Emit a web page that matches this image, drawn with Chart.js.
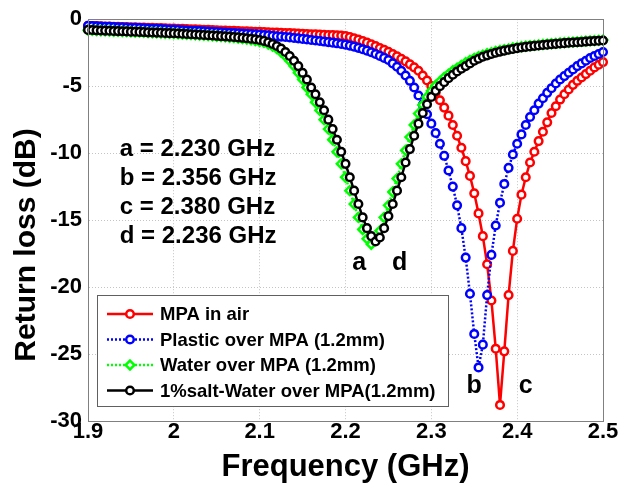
<!DOCTYPE html>
<html><head><meta charset="utf-8">
<script src="https://cdn.jsdelivr.net/npm/chart.js@4/dist/chart.umd.min.js"></script>
<style>html,body{margin:0;padding:0;background:#fff;overflow:hidden}</style>
</head><body>
<canvas id="c" width="619" height="489"></canvas>
<script>
// ---- data ----
const freqGHz = [
1.900,1.905,1.910,1.915,1.920,1.925,1.930,1.935,1.940,1.945,
1.950,1.955,1.960,1.965,1.970,1.975,1.980,1.985,1.990,1.995,
2.000,2.005,2.010,2.015,2.020,2.025,2.030,2.035,2.040,2.045,
2.050,2.055,2.060,2.065,2.070,2.075,2.080,2.085,2.090,2.095,
2.100,2.105,2.110,2.115,2.120,2.125,2.130,2.135,2.140,2.145,
2.150,2.155,2.160,2.165,2.170,2.175,2.180,2.185,2.190,2.195,
2.200,2.205,2.210,2.215,2.220,2.225,2.230,2.235,2.240,2.245,
2.250,2.255,2.260,2.265,2.270,2.275,2.280,2.285,2.290,2.295,
2.300,2.305,2.310,2.315,2.320,2.325,2.330,2.335,2.340,2.345,
2.350,2.355,2.360,2.365,2.370,2.375,2.380,2.385,2.390,2.395,
2.400,2.405,2.410,2.415,2.420,2.425,2.430,2.435,2.440,2.445,
2.450,2.455,2.460,2.465,2.470,2.475,2.480,2.485,2.490,2.495,
2.500];

const airDB = [
-0.50,-0.51,-0.52,-0.53,-0.54,-0.55,-0.56,-0.57,-0.58,-0.59,
-0.60,-0.61,-0.62,-0.63,-0.64,-0.65,-0.66,-0.67,-0.68,-0.69,
-0.70,-0.71,-0.72,-0.74,-0.75,-0.76,-0.77,-0.79,-0.80,-0.81,
-0.82,-0.84,-0.85,-0.86,-0.87,-0.89,-0.90,-0.91,-0.92,-0.94,
-0.95,-0.96,-0.98,-0.99,-1.00,-1.02,-1.03,-1.04,-1.06,-1.07,
-1.09,-1.10,-1.12,-1.13,-1.15,-1.16,-1.18,-1.19,-1.21,-1.23,
-1.25,-1.33,-1.42,-1.52,-1.63,-1.75,-1.88,-2.01,-2.15,-2.29,
-2.44,-2.60,-2.77,-2.95,-3.15,-3.37,-3.60,-3.85,-4.20,-4.58,
-5.00,-5.50,-6.05,-6.60,-7.20,-7.90,-8.70,-9.60,-10.6,-11.7,
-13.0,-14.5,-16.2,-18.3,-21.0,-24.6,-28.8,-24.8,-20.6,-17.3,
-14.9,-13.1,-11.8,-10.7,-9.90,-9.10,-8.40,-7.70,-7.00,-6.50,
-6.00,-5.60,-5.25,-4.90,-4.60,-4.35,-4.10,-3.85,-3.60,-3.40,
-3.20];

const plasticDB = [
-0.50,-0.51,-0.53,-0.54,-0.56,-0.57,-0.59,-0.60,-0.61,-0.63,
-0.64,-0.65,-0.67,-0.68,-0.70,-0.71,-0.72,-0.74,-0.75,-0.77,
-0.78,-0.80,-0.82,-0.84,-0.86,-0.87,-0.89,-0.91,-0.93,-0.95,
-0.96,-0.98,-1.00,-1.02,-1.03,-1.05,-1.07,-1.09,-1.11,-1.13,
-1.15,-1.18,-1.21,-1.24,-1.27,-1.30,-1.33,-1.36,-1.40,-1.43,
-1.47,-1.51,-1.55,-1.59,-1.63,-1.67,-1.71,-1.75,-1.80,-1.85,
-1.90,-1.97,-2.05,-2.14,-2.24,-2.35,-2.47,-2.60,-2.74,-2.89,
-3.05,-3.30,-3.55,-3.85,-4.20,-4.60,-5.10,-5.70,-6.40,-7.10,
-7.80,-8.50,-9.30,-10.2,-11.3,-12.5,-13.9,-15.6,-17.8,-20.5,
-23.5,-26.0,-24.3,-20.6,-17.6,-15.4,-13.7,-12.3,-11.1,-10.1,
-9.30,-8.60,-7.90,-7.30,-6.80,-6.30,-5.90,-5.50,-5.15,-4.80,
-4.50,-4.25,-4.00,-3.75,-3.50,-3.30,-3.10,-2.90,-2.75,-2.60,
-2.45];

const waterDB = [
-0.82,-0.83,-0.85,-0.86,-0.87,-0.88,-0.90,-0.91,-0.92,-0.93,
-0.95,-0.96,-0.97,-0.98,-1.00,-1.01,-1.02,-1.03,-1.05,-1.06,
-1.07,-1.09,-1.11,-1.13,-1.15,-1.17,-1.19,-1.21,-1.23,-1.25,
-1.27,-1.30,-1.32,-1.35,-1.38,-1.41,-1.45,-1.49,-1.54,-1.60,
-1.67,-1.72,-1.85,-2.00,-2.20,-2.45,-2.75,-3.10,-3.50,-4.00,
-4.50,-5.10,-5.60,-6.20,-6.80,-7.50,-8.20,-9.00,-9.90,-10.8,
-11.8,-12.8,-13.8,-14.8,-15.7,-16.4,-16.8,-16.5,-15.8,-14.8,
-13.9,-12.9,-11.9,-10.8,-9.80,-8.80,-7.90,-7.05,-6.40,-5.80,
-5.35,-4.95,-4.65,-4.35,-4.10,-3.85,-3.65,-3.45,-3.25,-3.08,
-2.93,-2.79,-2.68,-2.58,-2.49,-2.41,-2.34,-2.27,-2.21,-2.15,
-2.10,-2.06,-2.02,-1.98,-1.95,-1.92,-1.89,-1.86,-1.83,-1.80,
-1.78,-1.75,-1.73,-1.71,-1.69,-1.66,-1.64,-1.62,-1.60,-1.58,
-1.56];

const saltWaterDB = [
-0.80,-0.81,-0.83,-0.84,-0.85,-0.86,-0.88,-0.89,-0.90,-0.91,
-0.93,-0.94,-0.95,-0.96,-0.98,-0.99,-1.00,-1.01,-1.03,-1.04,
-1.05,-1.07,-1.09,-1.10,-1.12,-1.14,-1.16,-1.18,-1.20,-1.22,
-1.24,-1.26,-1.28,-1.30,-1.33,-1.36,-1.39,-1.42,-1.46,-1.50,
-1.55,-1.62,-1.72,-1.85,-2.00,-2.20,-2.45,-2.75,-3.10,-3.50,
-4.00,-4.50,-5.10,-5.60,-6.20,-6.80,-7.50,-8.20,-9.00,-9.90,
-10.8,-11.8,-12.8,-13.8,-14.8,-15.6,-16.2,-16.6,-16.3,-15.6,
-14.7,-13.8,-12.8,-11.8,-10.7,-9.70,-8.70,-7.80,-7.00,-6.35,
-5.80,-5.35,-5.00,-4.70,-4.40,-4.15,-3.90,-3.70,-3.50,-3.30,
-3.10,-2.95,-2.80,-2.70,-2.60,-2.50,-2.42,-2.35,-2.28,-2.22,
-2.16,-2.11,-2.07,-2.03,-1.99,-1.96,-1.93,-1.90,-1.87,-1.84,
-1.81,-1.79,-1.76,-1.74,-1.72,-1.70,-1.67,-1.65,-1.63,-1.61,
-1.59];

const seriesNames = ['MPA in air','Plastic over MPA (1.2mm)','Water over MPA (1.2mm)','1%salt-Water over MPA(1.2mm)'];
const xTicks = [1.9, 2.0, 2.1, 2.2, 2.3, 2.4, 2.5];
const xTickLabels = ['1.9','2','2.1','2.2','2.3','2.4','2.5'];
const yTicks = [-30, -25, -20, -15, -10, -5, 0];
const yTickLabels = ['-30','-25','-20','-15','-10','-5','0'];
const resonanceNotes = ['a = 2.230 GHz','b = 2.356 GHz','c = 2.380 GHz','d = 2.236 GHz'];
const pointLetters = ['a','b','c','d'];
const pointLetterAt = [[2.216,-18.2],[2.350,-27.4],[2.410,-27.4],[2.263,-18.2]];
const xTitle = 'Frequency (GHz)';
const yTitle = 'Return loss (dB)';

// ---- styling ----
const FONT = '"Liberation Sans", Arial, sans-serif';
const colors = ['#ff0000','#0000ff','#00ff00','#000000'];
const dashes = [[], [2,2], [2,2], []];
const shapes = ['circle','circle','rectRot','circle'];
const radii = [3.8, 3.8, 4.4, 3.8];
const allSeries = [airDB, plasticDB, waterDB, saltWaterDB];

function toXY(ys){ return ys.map((y,i)=>({x:freqGHz[i], y:y})); }

const datasets = allSeries.map((ys,k)=>({
  label: seriesNames[k],
  data: toXY(ys),
  borderColor: colors[k],
  backgroundColor: '#ffffff',
  borderWidth: 2.5,
  borderDash: dashes[k],
  pointStyle: shapes[k],
  pointRadius: radii[k],
  pointBorderWidth: 2.5,
  pointBackgroundColor: '#ffffff',
  pointBorderColor: colors[k],
  tension: 0,
  clip: false,
  order: 4-k
}));

const decor = {
  id: 'decor',
  afterDatasetsDraw(chart){
    const ctx = chart.ctx, a = chart.chartArea;
    const xs = chart.scales.x, ys = chart.scales.y;
    ctx.save();
    // box
    ctx.strokeStyle = '#808080'; ctx.lineWidth = 1;
    ctx.strokeRect(Math.round(a.left)+0.5, Math.round(a.top)+0.5, Math.round(a.right-a.left), Math.round(a.bottom-a.top));
    // y title
    ctx.fillStyle = '#000';
    ctx.save();
    ctx.translate(27, 245); ctx.rotate(-Math.PI/2);
    ctx.font = 'bold 30px ' + FONT; ctx.textAlign = 'center'; ctx.textBaseline = 'middle';
    ctx.fillText(yTitle, 0, 0);
    ctx.restore();
    // notes
    ctx.font = 'bold 24px ' + FONT;
    ctx.textBaseline = 'middle'; ctx.textAlign = 'left';
    const noteY = [-9.75,-11.9,-14.04,-16.18];
    resonanceNotes.forEach((t,i)=>{
      ctx.fillText(t, xs.getPixelForValue(1.937), ys.getPixelForValue(noteY[i]));
    });
    ctx.textAlign = 'center';
    ctx.font = 'bold 25px ' + FONT;
    pointLetters.forEach((t,i)=>{
      ctx.fillText(t, xs.getPixelForValue(pointLetterAt[i][0]), ys.getPixelForValue(pointLetterAt[i][1]));
    });
    // legend
    const bx = 97, by = 295, bw = 351, bh = 111;
    ctx.fillStyle = '#fff';
    ctx.fillRect(bx, by, bw, bh);
    ctx.strokeStyle = '#606060'; ctx.lineWidth = 1;
    ctx.strokeRect(bx+0.5, by+0.5, bw, bh);
    ctx.font = 'bold 18.5px ' + FONT;
    ctx.textAlign = 'left';
    seriesNames.forEach((name,k)=>{
      const cy = by + 19 + k*25.5;
      ctx.strokeStyle = colors[k]; ctx.lineWidth = 2.5;
      ctx.setLineDash(dashes[k]);
      ctx.beginPath(); ctx.moveTo(107, cy); ctx.lineTo(153, cy); ctx.stroke();
      ctx.setLineDash([]);
      ctx.fillStyle = '#fff'; ctx.strokeStyle = colors[k]; ctx.lineWidth = 2.5;
      ctx.beginPath();
      if (shapes[k]==='rectRot') { const r=radii[k]; ctx.moveTo(130,cy-r);ctx.lineTo(130+r,cy);ctx.lineTo(130,cy+r);ctx.lineTo(130-r,cy);ctx.closePath(); }
      else ctx.arc(130, cy, radii[k], 0, Math.PI*2);
      ctx.fill(); ctx.stroke();
      ctx.fillStyle = '#000';
      ctx.fillText(name, 160, cy+1);
    });
    ctx.restore();
  }
};

new Chart(document.getElementById('c'), {
  type: 'line',
  data: { datasets },
  options: {
    responsive: false,
    devicePixelRatio: 1,
    animation: false,
    events: [],
    layout: { padding: { left: 0, right: 16, top: 16, bottom: 0 } },
    plugins: { legend: { display: false }, tooltip: { enabled: false } },
    scales: {
      x: {
        type: 'linear', min: 1.9, max: 2.5,
        afterBuildTicks: s => { s.ticks = xTicks.map(v=>({value:v})); },
        afterFit: s => { s.height = 68; },
        ticks: { callback: (v,i)=>xTickLabels[i], color:'#000', font:{family:FONT, size:22, weight:'bold', lineHeight:1}, padding: 0, maxRotation:0, autoSkip:false },
        grid: { color:'#c4c4c4', lineWidth:1, drawTicks:false },
        border: { display:true, color:'#808080', dash:[1,2] },
        title: { display:true, text:xTitle, color:'#000', font:{family:FONT, size:31, weight:'bold'}, padding:{top:0,bottom:3} }
      },
      y: {
        type: 'linear', min: -30, max: 0,
        afterBuildTicks: s => { s.ticks = yTicks.map(v=>({value:v})); },
        afterFit: s => { s.width = 88; },
        ticks: { callback: (v,i)=>yTickLabels[i], color:'#000', font:{family:FONT, size:22, weight:'bold'}, padding: 6, autoSkip:false },
        grid: { color:'#c4c4c4', lineWidth:1, drawTicks:false },
        border: { display:true, color:'#808080', dash:[1,2] },
        title: { display:false }
      }
    }
  },
  plugins: [decor]
});
</script>
</body></html>
